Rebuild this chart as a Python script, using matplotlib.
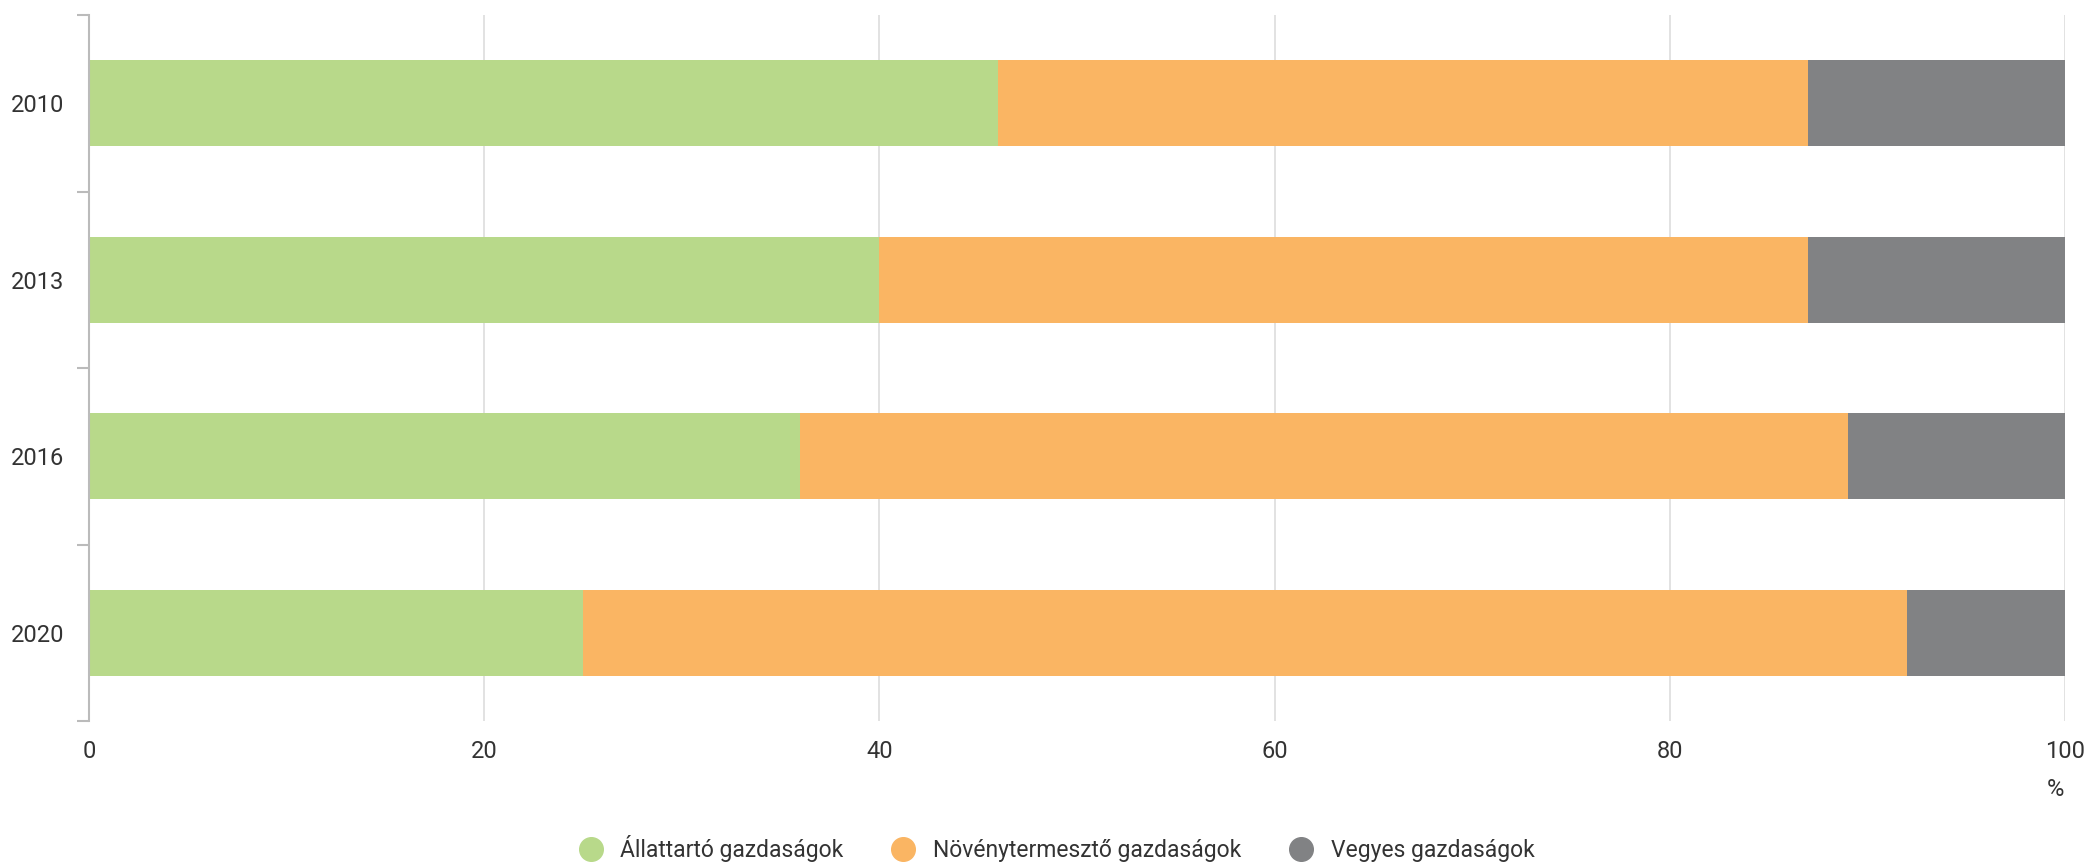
import numpy as np
import matplotlib.pyplot as plt
from matplotlib.lines import Line2D

plt.rcParams['font.family'] = ['Roboto', 'DejaVu Sans']

# --- adatok ---
evek = ['2010', '2013', '2016', '2020']
allattarto = [46, 40, 36, 25]
novenytermeszto = [41, 47, 53, 67]
vegyes = [13, 13, 11, 8]

sorozatok = ['Állattartó gazdaságok', 'Növénytermesztő gazdaságok', 'Vegyes gazdaságok']
szinek = ['#b8d98a', '#fab563', '#818284']

# --- rajz ---
fig = plt.figure(figsize=(20.89, 8.64), dpi=100)
ax = fig.add_axes([89/2089, 1 - 721/864, (2065 - 89)/2089, (721 - 15)/864])

y = np.arange(len(evek))
bal = np.zeros(len(evek))
for ertekek, szin in zip([allattarto, novenytermeszto, vegyes], szinek):
    ax.barh(y, ertekek, left=bal, height=0.49, color=szin, zorder=2)
    bal = bal + np.array(ertekek)

ax.set_xlim(0, 100)
ax.set_ylim(len(evek) - 0.5, -0.5)
ax.set_xticks([0, 20, 40, 60, 80, 100])
ax.set_yticks(y)
ax.set_yticklabels(evek)
ax.set_yticks(np.arange(-0.5, len(evek)), minor=True)

ax.tick_params(axis='x', length=0, pad=14, labelsize=17, labelcolor='#333333')
ax.tick_params(axis='y', which='major', length=0, pad=18, labelsize=17, labelcolor='#333333')
ax.tick_params(axis='y', which='minor', length=8.5, width=1.5, color='#bbbbbb', direction='out')

for s in ['top', 'right', 'bottom']:
    ax.spines[s].set_visible(False)
ax.spines['left'].set_color('#bbbbbb')
ax.spines['left'].set_linewidth(1.5)
ax.spines['left'].set_zorder(3)

ax.xaxis.grid(True, color='#dddddd', linewidth=1.2, zorder=0)
ax.set_axisbelow(True)

fig.text(2055/2089, 1 - 790/864, '%', ha='center', va='center', fontsize=17, color='#333333')

jelek = [Line2D([0], [0], marker='o', linestyle='', markersize=17, color=c) for c in szinek]
fig.legend(jelek, sorozatok, loc='center', bbox_to_anchor=(1051/2089, 1 - 849/864),
           ncol=3, frameon=False, fontsize=16.5, handletextpad=0.3, columnspacing=1.6,
           labelcolor='#333333')

fig.savefig('out.png', dpi=100)
